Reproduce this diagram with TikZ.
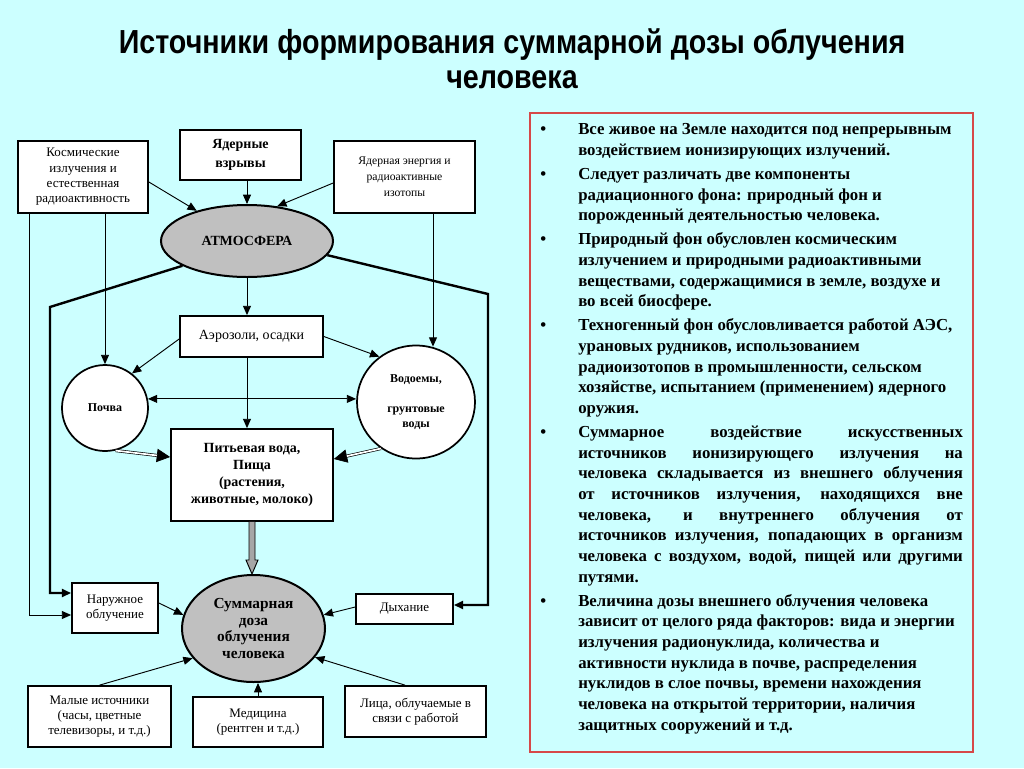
\documentclass[tikz,border=0pt]{standalone}
\usepackage{fontspec}
\setmainfont{Liberation Serif}
\newfontfamily\titlefont{Liberation Sans}[FakeStretch=0.86]
\usetikzlibrary{shapes.geometric, arrows.meta, calc}
\definecolor{slidebg}{RGB}{204,255,255}
\definecolor{dosegray}{RGB}{192,192,192}
\definecolor{panelred}{RGB}{214,72,72}
\newenvironment{notelist}{\begin{list}{\textbullet}{%
    \setlength{\leftmargin}{28.5pt}\setlength{\labelwidth}{28.5pt}%
    \setlength{\labelsep}{0pt}\setlength{\itemsep}{2.5pt}%
    \setlength{\parsep}{0pt}\setlength{\topsep}{0pt}\setlength{\partopsep}{0pt}%
    \renewcommand{\makelabel}[1]{##1\hfil}}}{\end{list}}
\tikzset{
    srcbox/.style={draw, rectangle, fill=white, line width=1.3pt, align=center, inner sep=1pt, font=\fontsize{9.75}{11.5}\selectfont},
    keybox/.style={srcbox, font=\bfseries\fontsize{10.5}{14}\selectfont},
    gasbox/.style={draw, ellipse, fill=dosegray, line width=1.5pt, align=center, inner sep=0pt, font=\bfseries\fontsize{11.5}{12.5}\selectfont},
    poolbox/.style={draw, ellipse, fill=white, line width=1.3pt, align=center, inner sep=0pt, font=\bfseries\fontsize{9}{11.25}\selectfont},
    flow/.style={-{Triangle[length=7pt,width=6pt]}, line width=0.7pt},
    mainflow/.style={flow, line width=1.8pt},
    bigtip/.style={-{Triangle[length=10pt,width=10pt]}, line width=0.5pt},
    dblflow/.style={double=white, double distance=1.3pt, line width=0.5pt, shorten >=10pt},
    blockarrow/.style={draw, fill=gray!70, line width=0.7pt},
}
\begin{document}
\begin{tikzpicture}[x=0.75pt, y=-0.75pt]
% Background
\fill[slidebg] (0,0) rectangle (1024,768);
\useasboundingbox (0,0) rectangle (1024,768);

% Title
\node[font=\titlefont\bfseries\fontsize{25}{26}\selectfont, align=center] (title) at (512,59) {Источники формирования суммарной дозы облучения\\человека};

% Text panel
\node[draw=panelred, line width=1pt, fill=slidebg, minimum width=332.25pt, minimum height=479.25pt] (panel) at (751.5,432.5) {};
\node[anchor=north west, text width=317pt, align=justify, inner sep=0pt, font=\bfseries\fontsize{12.6}{15.5}\selectfont] (notes) at (540,114) {%
\begin{notelist}
\item Все живое на Земле находится под непрерывным\\
воздействием ионизирующих излучений.
\item Следует различать две компоненты\\
радиационного фона: природный фон и\\
порожденный деятельностью человека.
\item Природный фон обусловлен космическим\\
излучением и природными радиоактивными\\
веществами, содержащимися в земле, воздухе и\\
во всей биосфере.
\item Техногенный фон обусловливается работой АЭС,\\
урановых рудников, использованием\\
радиоизотопов в промышленности, сельском\\
хозяйстве, испытанием (применением) ядерного\\
оружия.
\item Суммарное воздействие искусственных\linebreak
источников ионизирующего излучения на\linebreak
человека складывается из внешнего облучения\linebreak
от источников излучения, находящихся вне\linebreak
человека, и внутреннего облучения от\linebreak
источников излучения, попадающих в организм\linebreak
человека с воздухом, водой, пищей или другими\linebreak
путями.
\item Величина дозы внешнего облучения человека\\
зависит от целого ряда факторов: вида и энергии\\
излучения радионуклида, количества и\\
активности нуклида в почве, распределения\\
нуклидов в слое почвы, времени нахождения\\
человека на открытой территории, наличия\\
защитных сооружений и т.д.
\end{notelist}};

% Sources
\node[srcbox, minimum width=97.5pt, minimum height=54pt] (kosm) at (83,177) {Космические\\излучения и\\естественная\\радиоактивность};
\node[keybox, minimum width=90.75pt, minimum height=37.5pt] (vzryv) at (240.5,155) {Ядерные\\взрывы};
\node[srcbox, font=\fontsize{8.75}{12}\selectfont, minimum width=105.75pt, minimum height=54pt] (energ) at (404.5,177) {Ядерная энергия и\\радиоактивные\\изотопы};

% Atmosphere
\node[gasbox, font=\bfseries\fontsize{10.5}{12}\selectfont, minimum width=129pt, minimum height=54pt] (atm) at (247,241) {АТМОСФЕРА};

% Aerosols, soil, water
\node[srcbox, font=\fontsize{10.5}{12}\selectfont, minimum width=107.25pt, minimum height=30.75pt] (aero) at (251.5,336.5) {Аэрозоли, осадки};
\node[poolbox, minimum width=64.5pt, minimum height=64.5pt] (pochva) at (105,408) {Почва};
\node[poolbox, minimum width=88.5pt, minimum height=84.75pt] (vodo) at (416,402) {Водоемы,\\[11.25pt]грунтовые\\воды};
\node[keybox, font=\bfseries\fontsize{10.5}{12.75}\selectfont, minimum width=121.5pt, minimum height=69pt] (pit) at (252,475) {Питьевая вода,\\Пища\\(растения,\\животные, молоко)};

% Total dose
\node[gasbox, minimum width=107.25pt, minimum height=80.25pt] (sum) at (253.5,628.5) {Суммарная\\доза\\облучения\\человека};
\node[srcbox, minimum width=64.5pt, minimum height=37.5pt] (naruzh) at (115,608) {Наружное\\облучение};
\node[srcbox, minimum width=72.75pt, minimum height=22.5pt] (dyh) at (404.5,609) {Дыхание};
\node[srcbox, minimum width=107.25pt, minimum height=45.75pt] (malye) at (99.5,716.5) {Малые источники\\(часы, цветные\\телевизоры, и т.д.)};
\node[srcbox, minimum width=97.5pt, minimum height=37.5pt] (med) at (258,722) {Медицина\\(рентген и т.д.)};
\node[srcbox, minimum width=105.75pt, minimum height=38.25pt] (lica) at (415.5,711.5) {Лица, облучаемые в\\связи с работой};

% Into the atmosphere
\draw[flow] ($(kosm.east)+(0,5)$) -- (atm);
\draw[flow] (vzryv.south -| atm) -- (atm);
\draw[flow] ($(energ.west)+(0,6)$) -- (atm.49);

% Straight from the sources
\draw[flow] (kosm.south -| pochva) -- (pochva);
\draw[flow] ($(kosm.south west)+(12,0)$) |- ($(naruzh.west)+(0,7)$);
\draw[flow] ($(energ.south)+(28.5,0)$) -- ($(vodo.north)+(17,2)$);

% From the atmosphere
\coordinate (lbend) at (50,307);
\coordinate (rbend) at (488,294);
\draw[flow] (atm) -- (atm.south |- aero.north);
\draw[mainflow] (atm.201) -- (lbend) |- ($(naruzh.west)+(0,-15)$);
\draw[mainflow] (atm.-10) -- (rbend) |- ($(dyh.east)+(0,-4)$);

% From the aerosols
\draw[flow] ($(aero.west)+(0,2.5)$) -- (pochva.52);
\draw[flow] (aero.east) -- (vodo.129);
\draw[flow] (aero.south -| atm) -- (pit.north -| atm);
\draw[flow, {Triangle[length=7pt,width=6pt]}-{Triangle[length=7pt,width=6pt]}] (pochva.12) -- (vodo.west |- pochva.12);

% Into water and food
\draw[bigtip] (pochva.-76) -- ($(pit.west)+(0,-18)$);
\draw[dblflow] (pochva.-76) -- ($(pit.west)+(0,-18)$);
\draw[bigtip] (vodo.233) -- ($(pit.east)+(0,-16)$);
\draw[dblflow] (vodo.233) -- ($(pit.east)+(0,-16)$);

% Food to total dose
\coordinate (tip) at (pit.south |- sum.north);
\draw[blockarrow] ($(pit.south)+(-3,0)$) -- ($(tip)+(-3,-14)$) -- ($(tip)+(-6,-14)$) -- (tip) -- ($(tip)+(6,-14)$) -- ($(tip)+(3,-14)$) -- ($(pit.south)+(3,0)$);

% Into the total dose
\draw[flow] ($(naruzh.east)+(0,-5)$) -- (sum.169);
\draw[flow] ($(dyh.west)+(0,-2)$) -- (sum.11);
\draw[flow] (malye.north) -- (sum.206);
\draw[flow] (med.north) -- (med.north |- sum.south);
\draw[flow] ($(lica.north)+(-10.5,0)$) -- (sum.-25);
\end{tikzpicture}
\end{document}
